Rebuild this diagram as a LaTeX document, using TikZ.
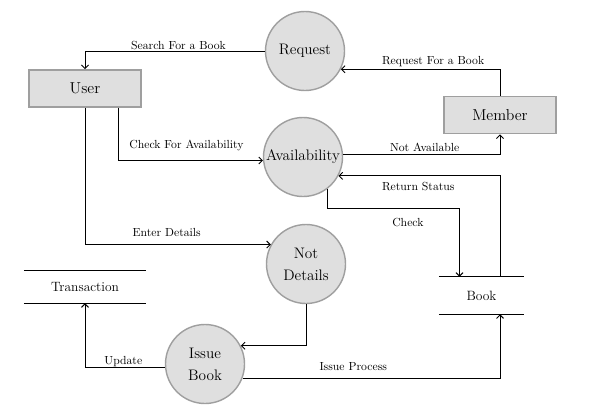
\documentclass[tikz,border=0pt]{standalone}
\usetikzlibrary{arrows.meta,positioning,calc}

\begin{document}
\begin{tikzpicture}[x=0.03cm, y=-0.03cm, >={Straight Barb[length=3pt,width=6pt]},
  proc/.style={circle, draw=gray!75, line width=1.2pt, fill=gray!25, minimum size=2.37cm, inner sep=0pt, align=center, font=\fontsize{13}{19}\selectfont},
  ent/.style={rectangle, draw=gray!75, line width=1.2pt, fill=gray!25, minimum width=3.36cm, minimum height=1.12cm, font=\fontsize{13.5}{16}\selectfont},
  store/.style={inner sep=0pt, font=\fontsize{11.5}{14}\selectfont},
  flow/.style={->, line width=0.8pt},
  lbl/.style={inner sep=0pt, font=\normalsize}]
  \useasboundingbox (0,0) rectangle (596,415);

  \node[ent] (user) at (85,88.5) {User};
  \node[ent] (mem) at (500,115) {Member};
  \node[proc] (req) at (305,51) {Request};
  \node[proc] (avail) at (303,157) {Availability};
  \node[proc] (notd) at (306,264) {Not\\Details};
  \node[proc] (issue) at (205,364) {Issue\\Book};
  \node[store, minimum width=3.66cm, minimum height=0.96cm] (trans) at (85,287) {Transaction};
  \node[store, minimum width=2.55cm, minimum height=1.11cm] (book) at (481.5,295.5) {Book};

  \draw[line width=0.8pt] (trans.north west) -- (trans.north east) (trans.south west) -- (trans.south east);
  \draw[line width=0.8pt] (book.north west) -- (book.north east) (book.south west) -- (book.south east);

  \draw[flow] (req.west) -| node[lbl, above=0.5pt, pos=0.24] {Search For a Book} (user.north);
  \draw[flow] (mem.north) |- node[lbl, above=1.5pt, pos=0.71] {Request For a Book} (req.-27);
  \draw[flow] (user.-30) |- node[lbl, above=7.4pt, pos=0.735] {Check For Availability} (avail.185);
  \draw[flow] (avail.3) -| node[lbl, above=2.5pt, pos=0.26] {Not Available} (mem.south);
  \draw[flow] (book.north -| mem.south) |- node[lbl, below=5pt, pos=0.753] {Return Status} (avail.-28);

  \coordinate (chkin) at ($(book.north)+(-22,0)$);
  \draw[flow] (avail.-53) -- ++(0,19) -| node[lbl, below=8.5pt, pos=0.305] {Check} (chkin);

  \draw[flow] (user.south) |- node[lbl, above=6pt, pos=0.72] {Enter Details} (notd.151);
  \draw[flow] (notd.south) |- (issue.27);
  \draw[flow] (issue.185) -| node[lbl, above=0.3pt, pos=0.26] {Update} (trans.south);
  \draw[flow] (issue.-21) -| node[lbl, above=6pt, pos=0.215] {Issue Process} (book.south -| mem.south);
\end{tikzpicture}
\end{document}
